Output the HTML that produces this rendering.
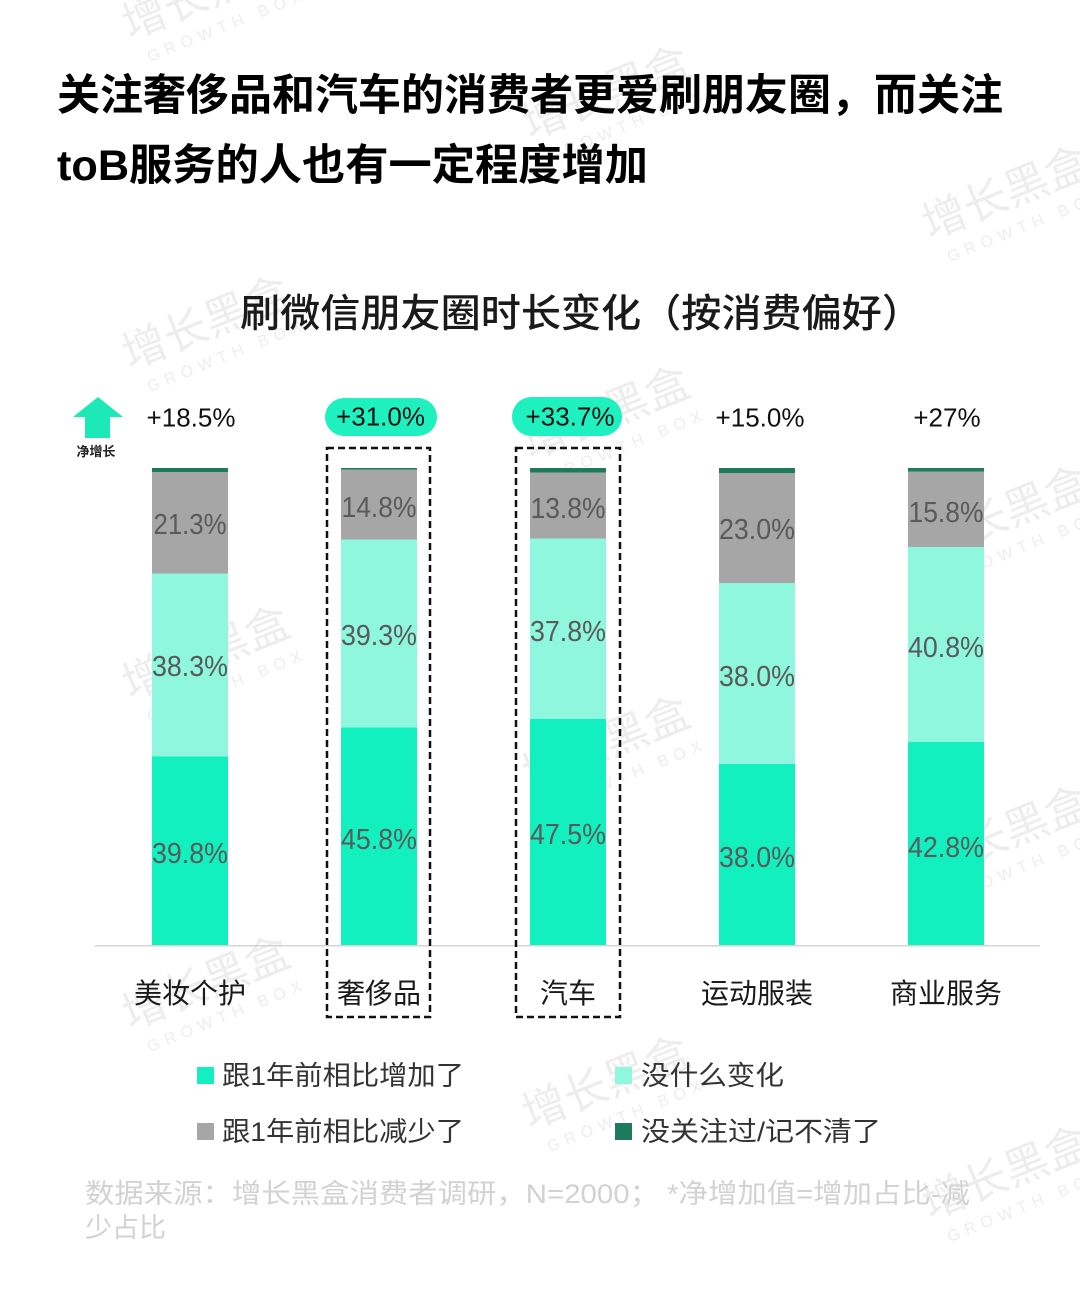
<!DOCTYPE html>
<html><head><meta charset="utf-8">
<style>
html,body{margin:0;padding:0;background:#fff;}
svg{display:block;}
text{font-family:"Liberation Sans","Noto Sans CJK SC",sans-serif;}
.wm{fill:#ededed;font-size:44px;}
.wm2{fill:#ededed;font-size:16px;letter-spacing:6px;}
.lbl{font-family:"DejaVu Sans","Liberation Sans",sans-serif;font-weight:200;font-size:29px;fill:#5a5a5a;}
</style></head>
<body>
<svg width="1080" height="1296" viewBox="0 0 1080 1296" xmlns="http://www.w3.org/2000/svg">
<rect width="1080" height="1296" fill="#fff"/>
<!-- watermarks -->
<g>
<g transform="translate(130,40) rotate(-22)"><text class="wm" x="0" y="0">增长黑盒</text><text class="wm2" x="10" y="28">GROWTH BOX</text></g>
<g transform="translate(530,140) rotate(-22)"><text class="wm" x="0" y="0">增长黑盒</text><text class="wm2" x="10" y="28">GROWTH BOX</text></g>
<g transform="translate(930,240) rotate(-22)"><text class="wm" x="0" y="0">增长黑盒</text><text class="wm2" x="10" y="28">GROWTH BOX</text></g>
<g transform="translate(130,370) rotate(-22)"><text class="wm" x="0" y="0">增长黑盒</text><text class="wm2" x="10" y="28">GROWTH BOX</text></g>
<g transform="translate(530,460) rotate(-22)"><text class="wm" x="0" y="0">增长黑盒</text><text class="wm2" x="10" y="28">GROWTH BOX</text></g>
<g transform="translate(930,560) rotate(-22)"><text class="wm" x="0" y="0">增长黑盒</text><text class="wm2" x="10" y="28">GROWTH BOX</text></g>
<g transform="translate(130,700) rotate(-22)"><text class="wm" x="0" y="0">增长黑盒</text><text class="wm2" x="10" y="28">GROWTH BOX</text></g>
<g transform="translate(530,790) rotate(-22)"><text class="wm" x="0" y="0">增长黑盒</text><text class="wm2" x="10" y="28">GROWTH BOX</text></g>
<g transform="translate(930,880) rotate(-22)"><text class="wm" x="0" y="0">增长黑盒</text><text class="wm2" x="10" y="28">GROWTH BOX</text></g>
<g transform="translate(130,1030) rotate(-22)"><text class="wm" x="0" y="0">增长黑盒</text><text class="wm2" x="10" y="28">GROWTH BOX</text></g>
<g transform="translate(530,1130) rotate(-22)"><text class="wm" x="0" y="0">增长黑盒</text><text class="wm2" x="10" y="28">GROWTH BOX</text></g>
<g transform="translate(930,1220) rotate(-22)"><text class="wm" x="0" y="0">增长黑盒</text><text class="wm2" x="10" y="28">GROWTH BOX</text></g>
</g>

<!-- Title -->
<text x="57" y="110" font-size="43" font-weight="700" fill="#000">关注奢侈品和汽车的消费者更爱刷朋友圈，而关注</text>
<text x="57" y="180" font-size="43" font-weight="700" fill="#000" textLength="591" lengthAdjust="spacingAndGlyphs">toB服务的人也有一定程度增加</text>

<!-- Chart title -->
<text x="240" y="327" font-size="39" font-weight="500" fill="#1a1a1a" textLength="682" lengthAdjust="spacingAndGlyphs">刷微信朋友圈时长变化（按消费偏好）</text>

<!-- net growth icon -->
<polygon points="98,397 123,417 110,417 110,438 85,438 85,417 73,417" fill="#1de9b6"/>
<text x="96" y="456" font-size="13" font-weight="700" fill="#222" text-anchor="middle">净增长</text>

<!-- pills -->
<rect x="325" y="398" width="112" height="38" rx="19" fill="#1ef0c0"/>
<rect x="512" y="397" width="110" height="39" rx="19.5" fill="#1ef0c0"/>

<!-- top labels -->
<g font-size="26" fill="#111" text-anchor="middle">
<text x="191" y="426.5">+18.5%</text>
<text x="380.5" y="425.5">+31.0%</text>
<text x="570" y="425.5">+33.7%</text>
<text x="760" y="426.5">+15.0%</text>
<text x="947" y="426.5">+27%</text>
</g>

<!-- bars -->
<g>
<rect x="152" y="468" width="76" height="4" fill="#1d7a5d"/>
<rect x="152" y="472" width="76" height="101.5" fill="#a6a6a6"/>
<rect x="152" y="573.5" width="76" height="183" fill="#8ef7de"/>
<rect x="152" y="756.5" width="76" height="189" fill="#12f0bf"/>

<rect x="341" y="468" width="76" height="1.5" fill="#1d7a5d"/>
<rect x="341" y="469.5" width="76" height="70" fill="#a6a6a6"/>
<rect x="341" y="539.5" width="76" height="188" fill="#8ef7de"/>
<rect x="341" y="727.5" width="76" height="218" fill="#12f0bf"/>

<rect x="530" y="468" width="76" height="4.5" fill="#1d7a5d"/>
<rect x="530" y="472.5" width="76" height="66" fill="#a6a6a6"/>
<rect x="530" y="538.5" width="76" height="180.5" fill="#8ef7de"/>
<rect x="530" y="719" width="76" height="226.5" fill="#12f0bf"/>

<rect x="719" y="468" width="76" height="5" fill="#1d7a5d"/>
<rect x="719" y="473" width="76" height="110" fill="#a6a6a6"/>
<rect x="719" y="583" width="76" height="181" fill="#8ef7de"/>
<rect x="719" y="764" width="76" height="181.5" fill="#12f0bf"/>

<rect x="908" y="468" width="76" height="3.5" fill="#1d7a5d"/>
<rect x="908" y="471.5" width="76" height="75.5" fill="#a6a6a6"/>
<rect x="908" y="547" width="76" height="195" fill="#8ef7de"/>
<rect x="908" y="742" width="76" height="203.5" fill="#12f0bf"/>
</g>

<!-- bar labels -->
<g class="lbl" text-anchor="middle">
<text x="190" y="534" textLength="73" lengthAdjust="spacingAndGlyphs">21.3%</text>
<text x="190" y="676" textLength="76" lengthAdjust="spacingAndGlyphs">38.3%</text>
<text x="190" y="863" textLength="76" lengthAdjust="spacingAndGlyphs">39.8%</text>

<text x="379" y="517" textLength="75" lengthAdjust="spacingAndGlyphs">14.8%</text>
<text x="379" y="645" textLength="76" lengthAdjust="spacingAndGlyphs">39.3%</text>
<text x="379" y="849" textLength="76" lengthAdjust="spacingAndGlyphs">45.8%</text>

<text x="568" y="518" textLength="75" lengthAdjust="spacingAndGlyphs">13.8%</text>
<text x="568" y="641" textLength="76" lengthAdjust="spacingAndGlyphs">37.8%</text>
<text x="568" y="844" textLength="76" lengthAdjust="spacingAndGlyphs">47.5%</text>

<text x="757" y="539" textLength="76" lengthAdjust="spacingAndGlyphs">23.0%</text>
<text x="757" y="686" textLength="76" lengthAdjust="spacingAndGlyphs">38.0%</text>
<text x="757" y="867" textLength="76" lengthAdjust="spacingAndGlyphs">38.0%</text>

<text x="946" y="522" textLength="75" lengthAdjust="spacingAndGlyphs">15.8%</text>
<text x="946" y="657" textLength="76" lengthAdjust="spacingAndGlyphs">40.8%</text>
<text x="946" y="857" textLength="76" lengthAdjust="spacingAndGlyphs">42.8%</text>
</g>

<!-- axis -->
<line x1="95" y1="945.8" x2="1040" y2="945.8" stroke="#d4d4d4" stroke-width="1.5"/>

<!-- dashed boxes -->
<rect x="327" y="448" width="103" height="569" fill="none" stroke="#111" stroke-width="2.5" stroke-dasharray="7,4"/>
<rect x="516" y="448" width="104" height="569" fill="none" stroke="#111" stroke-width="2.5" stroke-dasharray="7,4"/>

<!-- category labels -->
<g font-size="28" fill="#1a1a1a" text-anchor="middle">
<text x="190" y="1003">美妆个护</text>
<text x="379" y="1003">奢侈品</text>
<text x="568" y="1003">汽车</text>
<text x="757" y="1003">运动服装</text>
<text x="946" y="1003">商业服务</text>
</g>

<!-- legend -->
<rect x="197" y="1067" width="17" height="17" fill="#12f0bf"/>
<text x="222" y="1085" font-size="27" fill="#333" textLength="242" lengthAdjust="spacingAndGlyphs">跟1年前相比增加了</text>
<rect x="615" y="1067" width="17" height="17" fill="#8ef7de"/>
<text x="641" y="1085" font-size="27" fill="#333" textLength="143" lengthAdjust="spacingAndGlyphs">没什么变化</text>
<rect x="197" y="1123" width="17" height="17" fill="#a6a6a6"/>
<text x="222" y="1141" font-size="27" fill="#333" textLength="242" lengthAdjust="spacingAndGlyphs">跟1年前相比减少了</text>
<rect x="615" y="1123" width="17" height="17" fill="#1d7a5d"/>
<text x="641" y="1141" font-size="27" fill="#333" textLength="240" lengthAdjust="spacingAndGlyphs">没关注过/记不清了</text>

<!-- footnote -->
<text x="85" y="1203" font-size="27" fill="#d2d2d2" textLength="885" lengthAdjust="spacingAndGlyphs">数据来源：增长黑盒消费者调研，N=2000； *净增加值=增加占比-减</text>
<text x="85" y="1237" font-size="27" fill="#d2d2d2">少占比</text>
</svg>
</body></html>
